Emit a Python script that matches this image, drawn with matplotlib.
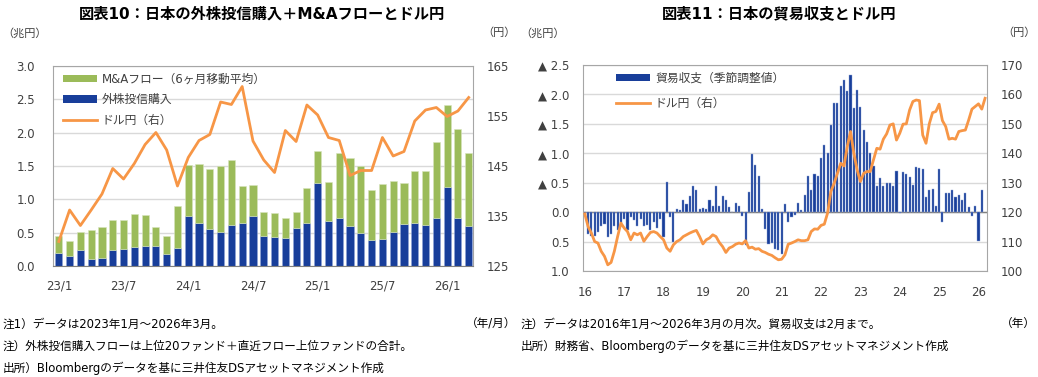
import matplotlib
matplotlib.use('Agg')
import matplotlib.pyplot as plt
import numpy as np
from matplotlib.lines import Line2D
from matplotlib.patches import Patch

plt.rcParams['font.family'] = ['DejaVu Sans', 'Noto Sans CJK JP']

# ---------------- Chart 10 data (2023/1 - 2026/3) ----------------
months10 = ['23/1', '23/2', '23/3', '23/4', '23/5', '23/6', '23/7', '23/8', '23/9', '23/10', '23/11', '23/12',
            '24/1', '24/2', '24/3', '24/4', '24/5', '24/6', '24/7', '24/8', '24/9', '24/10', '24/11', '24/12',
            '25/1', '25/2', '25/3', '25/4', '25/5', '25/6', '25/7', '25/8', '25/9', '25/10', '25/11', '25/12',
            '26/1', '26/2', '26/3']
fund_buy = [0.20, 0.145, 0.235, 0.105, 0.125, 0.24, 0.255, 0.285, 0.305, 0.30, 0.185, 0.27,
            0.755, 0.645, 0.555, 0.51, 0.62, 0.645, 0.755, 0.445, 0.435, 0.42, 0.57, 0.645,
            1.24, 0.675, 0.725, 0.605, 0.495, 0.395, 0.405, 0.51, 0.63, 0.645, 0.62, 0.725,
            1.18, 0.72, 0.60]
ma_flow = [0.255, 0.235, 0.275, 0.43, 0.46, 0.445, 0.44, 0.50, 0.455, 0.285, 0.27, 0.63,
           0.76, 0.885, 0.905, 0.985, 0.97, 0.55, 0.455, 0.36, 0.36, 0.30, 0.235, 0.53,
           0.49, 0.58, 0.965, 1.01, 1.0, 0.74, 0.82, 0.765, 0.61, 0.785, 0.81, 1.14,
           1.235, 1.33, 1.09]
usdjpy10 = [129.9, 136.2, 133.1, 136.2, 139.4, 144.5, 142.4, 145.5, 149.3, 151.7, 148.2, 141.0,
            146.7, 150.1, 151.3, 157.8, 157.3, 160.9, 150.0, 146.2, 143.7, 152.1, 149.9, 157.2,
            155.2, 150.7, 150.1, 143.1, 144.1, 144.1, 150.7, 147.0, 147.9, 154.0, 156.2, 156.7,
            154.9, 156.0, 158.7]
xticklabels10 = ['23/1', '23/7', '24/1', '24/7', '25/1', '25/7', '26/1']

# ---------------- Chart 11 data (2016/1 - 2026/3) ----------------
years11 = ['16', '17', '18', '19', '20', '21', '22', '23', '24', '25', '26']
trade_balance = [
    0.05, 0.37, 0.40, 0.41, 0.33, 0.24, 0.20, 0.42, 0.37, 0.23, 0.30, 0.19,
    0.12, 0.30, 0.08, 0.13, 0.24, 0.12, 0.24, 0.21, 0.30, 0.16, 0.27, 0.12,
    0.42, -0.52, 0.08, 0.50, -0.06, -0.04, -0.21, -0.14, -0.28, -0.45, -0.38, -0.06,
    -0.07, -0.06, -0.21, -0.10, -0.45, -0.10, -0.28, -0.20, -0.08, -0.01, -0.15, -0.10,
    0.06, 0.55, -0.34, -0.98, -0.80, -0.62, -0.06, 0.28, 0.54, 0.53, 0.62, 0.64,
    0.71, -0.14, 0.17, 0.08, 0.05, -0.15, -0.04, -0.29, -0.62, -0.38, -0.64, -0.62,
    -0.92, -1.14, -1.00, -1.48, -1.86, -1.85, -2.14, -2.24, -2.06, -2.33, -1.77, -2.07,
    -1.78, -1.40, -1.19, -1.00, -0.79, -0.45, -0.58, -0.44, -0.50, -0.50, -0.45, -0.70,
    0.02, -0.69, -0.65, -0.59, -0.46, -0.76, -0.75, -0.73, -0.25, -0.37, -0.40, -0.11,
    -0.73, 0.17, -0.32, -0.32, -0.38, -0.25, -0.29, -0.21, -0.32, -0.08, 0.06, -0.11,
    0.49, -0.38]
usdjpy11 = [
    119.4, 115.1, 112.9, 110.0, 109.5, 106.7, 105.0, 102.1, 102.9, 106.7, 111.7, 116.3,
    114.6, 113.4, 110.6, 112.9, 112.3, 112.9, 110.1, 111.7, 113.1, 113.4, 112.9, 111.7,
    110.6, 107.8, 106.7, 108.9, 110.0, 110.6, 111.7, 112.3, 112.9, 113.4, 113.8, 111.7,
    109.2, 110.6, 111.2, 112.3, 111.7, 109.7, 108.3, 106.3, 107.8, 108.3, 109.1, 109.5,
    109.2, 110.3, 107.8, 108.1, 107.4, 107.6, 106.7, 106.3, 105.7, 105.3, 104.5, 103.8,
    104.0, 105.5, 109.1, 109.5, 110.0, 110.6, 110.3, 110.3, 110.6, 113.4, 114.3, 114.2,
    115.5, 115.9, 119.7, 127.0, 129.8, 133.2, 136.6, 135.7, 142.3, 147.4, 140.0, 134.4,
    130.4, 133.2, 133.8, 133.8, 137.8, 141.7, 141.4, 144.8, 146.6, 149.6, 150.0, 144.5,
    146.8, 149.9, 150.0, 154.7, 157.6, 158.1, 157.9, 146.2, 143.4, 150.0, 153.8, 154.2,
    156.7, 151.1, 149.1, 144.8, 145.1, 144.8, 147.4, 147.7, 147.9, 151.3, 155.0, 155.9,
    156.8, 155.0, 158.7]

BLUE = '#183E9A'
GREEN = '#9BBB59'
ORANGE = '#F79646'
FRAME = '#A6A6A6'
GRID = '#D9D9D9'
TXT = '#404040'

W, H = 1038, 377
fig = plt.figure(figsize=(W / 100, H / 100), dpi=100)


def fx(px):
    return px / W


def fy(py):
    return 1 - py / H


# ---------------- Chart 10 ----------------
ax1 = fig.add_axes([fx(53), fy(266), fx(473 - 53), (266 - 66) / H])
x10 = np.arange(len(months10))
ax1.bar(x10, fund_buy, width=0.66, color=BLUE, edgecolor='#8FA5D8', linewidth=0.4, zorder=2)
ax1.bar(x10, ma_flow, bottom=fund_buy, width=0.66, color=GREEN, edgecolor='#D7E4BD', linewidth=0.4, zorder=2)
ax1.set_xlim(-0.54, len(months10) - 0.6)
ax1.set_ylim(0, 3.0)
ax1.set_yticks(np.arange(0, 3.01, 0.5))
ax1.set_yticklabels(['%.1f' % v for v in np.arange(0, 3.01, 0.5)])
ax1.set_xticks([months10.index(m) for m in xticklabels10])
ax1.set_xticklabels(xticklabels10)
ax1.grid(axis='y', color=GRID, linewidth=1.0, zorder=0)
ax1.set_axisbelow(True)
for s in ['top', 'left', 'right']:
    ax1.spines[s].set_color(FRAME)
ax1.spines['bottom'].set_color('#808080')
ax1.tick_params(axis='both', length=0, labelsize=8.5, colors=TXT)
ax1.tick_params(axis='y', pad=13)
ax1.tick_params(axis='x', pad=10)

ax1r = ax1.twinx()
ax1r.plot(x10, usdjpy10, color=ORANGE, linewidth=2.0, zorder=3)
ax1r.set_ylim(125, 165)
ax1r.set_yticks([125, 135, 145, 155, 165])
ax1r.tick_params(axis='y', length=0, labelsize=8.5, colors=TXT, pad=10)
for s in ax1r.spines.values():
    s.set_visible(False)

h1 = [Patch(facecolor=GREEN, edgecolor='none'), Patch(facecolor=BLUE, edgecolor='none'),
      Line2D([0], [0], color=ORANGE, linewidth=2.0)]
l1 = ['M&Aフロー（6ヶ月移動平均）', '外株投信購入', 'ドル円（右）']
fig.legend(h1, l1, loc='upper left', bbox_to_anchor=(fx(57), fy(67)), frameon=False,
           fontsize=8.5, handlelength=2.9, handleheight=0.6, handletextpad=0.4,
           labelspacing=0.62, borderpad=0, labelcolor=TXT)

fig.text(fx(262), fy(14), '図表10：日本の外株投信購入＋M&Aフローとドル円', ha='center', va='center',
         fontsize=11, fontweight='bold')
fig.text(fx(2), fy(33), '（兆円）', ha='left', va='center', fontsize=8, color=TXT)
fig.text(fx(516), fy(33), '（円）', ha='right', va='center', fontsize=8, color=TXT)

fig.text(fx(3), fy(324), '注1）データは2023年1月～2026年3月。', ha='left', va='center', fontsize=8.4)
fig.text(fx(516), fy(324), '（年/月）', ha='right', va='center', fontsize=8.4)
fig.text(fx(3), fy(346), '注）外株投信購入フローは上位20ファンド＋直近フロー上位ファンドの合計。', ha='left', va='center', fontsize=8.4)
fig.text(fx(3), fy(368), '出所）Bloombergのデータを基に三井住友DSアセットマネジメント作成', ha='left', va='center', fontsize=8.4)

# ---------------- Chart 11 ----------------
ax2 = fig.add_axes([fx(583.3), fy(271), fx(986.7 - 583.3), (271 - 65) / H])
x11b = np.arange(len(trade_balance))
x11l = np.arange(len(usdjpy11))
ax2.bar(x11b, trade_balance, width=0.64, color=BLUE, edgecolor='#8FA5D8', linewidth=0.3, zorder=2)
ax2.set_xlim(-0.46, 122.5)
ax2.set_ylim(1.0, -2.5)
yt2 = np.arange(-2.5, 1.01, 0.5)
ax2.set_yticks(yt2)
ax2.set_yticklabels([('▲ %.1f' % abs(v)) if v < -1e-9 else '%.1f' % abs(v) for v in yt2])
ax2.set_xticks([12 * k for k in range(len(years11))])
ax2.set_xticklabels(years11)
ax2.grid(axis='y', color=GRID, linewidth=1.0, zorder=0)
ax2.set_axisbelow(True)
ax2.axhline(0, color='#808080', linewidth=1.0, zorder=1)
for s in ax2.spines.values():
    s.set_color(FRAME)
ax2.tick_params(axis='both', length=0, labelsize=8.5, colors=TXT)
ax2.tick_params(axis='y', pad=10)
ax2.tick_params(axis='x', pad=11)

ax2r = ax2.twinx()
ax2r.plot(x11l, usdjpy11, color=ORANGE, linewidth=2.0, zorder=3)
ax2r.set_ylim(100, 170)
ax2r.set_yticks(np.arange(100, 171, 10))
ax2r.tick_params(axis='y', length=0, labelsize=8.5, colors=TXT, pad=10)
for s in ax2r.spines.values():
    s.set_visible(False)

h2 = [Patch(facecolor=BLUE, edgecolor='none'), Line2D([0], [0], color=ORANGE, linewidth=2.0)]
l2 = ['貿易収支（季節調整値）', 'ドル円（右）']
fig.legend(h2, l2, loc='upper left', bbox_to_anchor=(fx(610), fy(66)), frameon=False,
           fontsize=8.5, handlelength=2.9, handleheight=0.6, handletextpad=0.4,
           labelspacing=1.05, borderpad=0, labelcolor=TXT)

fig.text(fx(779), fy(14), '図表11：日本の貿易収支とドル円', ha='center', va='center',
         fontsize=11, fontweight='bold')
fig.text(fx(520), fy(33), '（兆円）', ha='left', va='center', fontsize=8, color=TXT)
fig.text(fx(1036), fy(33), '（円）', ha='right', va='center', fontsize=8, color=TXT)
fig.text(fx(521), fy(324), '注）データは2016年1月～2026年3月の月次。貿易収支は2月まで。', ha='left', va='center', fontsize=8.4)
fig.text(fx(1036), fy(324), '（年）', ha='right', va='center', fontsize=8.4)
fig.text(fx(521), fy(346), '出所）財務省、Bloombergのデータを基に三井住友DSアセットマネジメント作成', ha='left', va='center', fontsize=8.4)

fig.savefig('out.png', dpi=100)
